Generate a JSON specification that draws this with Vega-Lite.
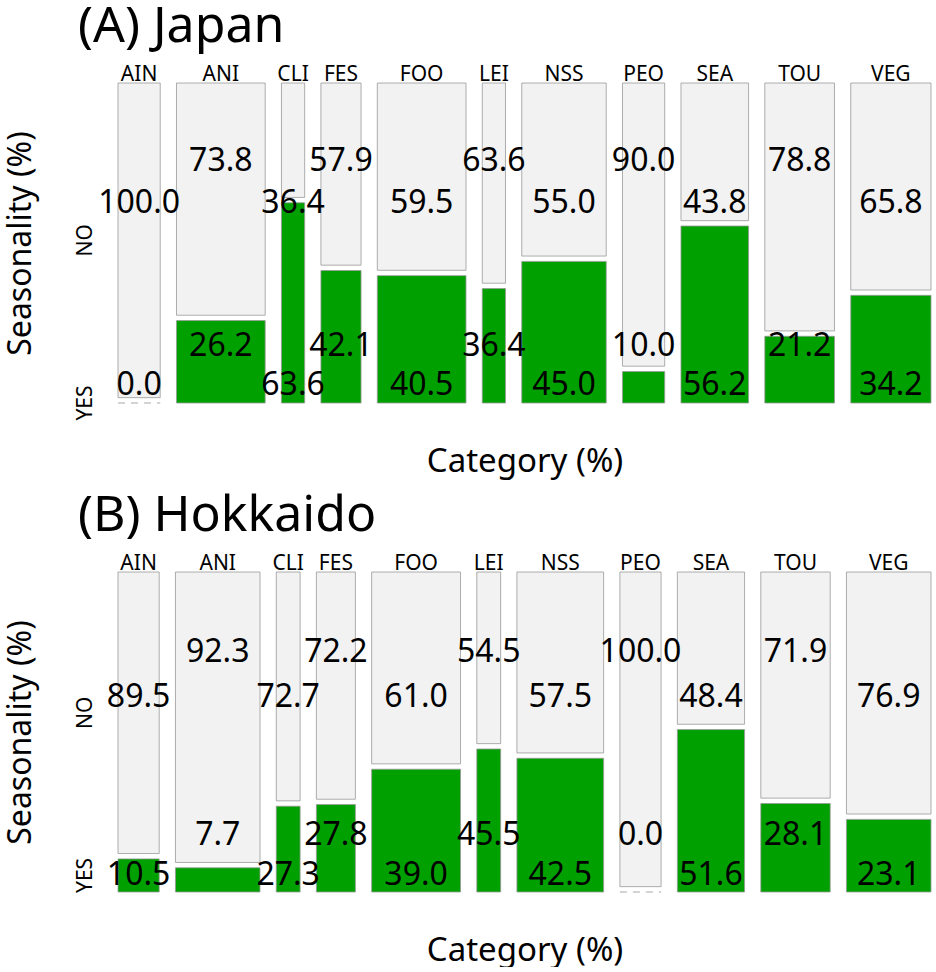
{
  "$schema": "https://vega.github.io/schema/vega-lite/v6.json",
  "padding": {"left": 4, "top": 2, "right": 2, "bottom": 0},
  "config": {
    "font": "Noto Sans",
    "view": {"stroke": null},
    "title": {"font": "Noto Sans", "fontWeight": "normal", "color": "#000"},
    "axis": {"titleFont": "Noto Sans", "titleFontWeight": "normal", "titleColor": "#000", "titleFontSize": 33}
  },
  "datasets": {
    "counts": [
      {"panel": "A", "cat": "AIN", "season": "YES", "n": 0},
      {"panel": "A", "cat": "AIN", "season": "NO", "n": 20},
      {"panel": "A", "cat": "ANI", "season": "YES", "n": 11},
      {"panel": "A", "cat": "ANI", "season": "NO", "n": 31},
      {"panel": "A", "cat": "CLI", "season": "YES", "n": 7},
      {"panel": "A", "cat": "CLI", "season": "NO", "n": 4},
      {"panel": "A", "cat": "FES", "season": "YES", "n": 8},
      {"panel": "A", "cat": "FES", "season": "NO", "n": 11},
      {"panel": "A", "cat": "FOO", "season": "YES", "n": 17},
      {"panel": "A", "cat": "FOO", "season": "NO", "n": 25},
      {"panel": "A", "cat": "LEI", "season": "YES", "n": 4},
      {"panel": "A", "cat": "LEI", "season": "NO", "n": 7},
      {"panel": "A", "cat": "NSS", "season": "YES", "n": 18},
      {"panel": "A", "cat": "NSS", "season": "NO", "n": 22},
      {"panel": "A", "cat": "PEO", "season": "YES", "n": 2},
      {"panel": "A", "cat": "PEO", "season": "NO", "n": 18},
      {"panel": "A", "cat": "SEA", "season": "YES", "n": 18},
      {"panel": "A", "cat": "SEA", "season": "NO", "n": 14},
      {"panel": "A", "cat": "TOU", "season": "YES", "n": 7},
      {"panel": "A", "cat": "TOU", "season": "NO", "n": 26},
      {"panel": "A", "cat": "VEG", "season": "YES", "n": 13},
      {"panel": "A", "cat": "VEG", "season": "NO", "n": 25},
      {"panel": "B", "cat": "AIN", "season": "YES", "n": 2},
      {"panel": "B", "cat": "AIN", "season": "NO", "n": 17},
      {"panel": "B", "cat": "ANI", "season": "YES", "n": 3},
      {"panel": "B", "cat": "ANI", "season": "NO", "n": 36},
      {"panel": "B", "cat": "CLI", "season": "YES", "n": 3},
      {"panel": "B", "cat": "CLI", "season": "NO", "n": 8},
      {"panel": "B", "cat": "FES", "season": "YES", "n": 5},
      {"panel": "B", "cat": "FES", "season": "NO", "n": 13},
      {"panel": "B", "cat": "FOO", "season": "YES", "n": 16},
      {"panel": "B", "cat": "FOO", "season": "NO", "n": 25},
      {"panel": "B", "cat": "LEI", "season": "YES", "n": 5},
      {"panel": "B", "cat": "LEI", "season": "NO", "n": 6},
      {"panel": "B", "cat": "NSS", "season": "YES", "n": 17},
      {"panel": "B", "cat": "NSS", "season": "NO", "n": 23},
      {"panel": "B", "cat": "PEO", "season": "YES", "n": 0},
      {"panel": "B", "cat": "PEO", "season": "NO", "n": 19},
      {"panel": "B", "cat": "SEA", "season": "YES", "n": 16},
      {"panel": "B", "cat": "SEA", "season": "NO", "n": 15},
      {"panel": "B", "cat": "TOU", "season": "YES", "n": 9},
      {"panel": "B", "cat": "TOU", "season": "NO", "n": 23},
      {"panel": "B", "cat": "VEG", "season": "YES", "n": 9},
      {"panel": "B", "cat": "VEG", "season": "NO", "n": 30}
    ]
  },
  "spacing": 13,
  "vconcat": [
    {
      "title": {"text": "(A) Japan", "anchor": "start", "fontSize": 50, "dx": 74, "offset": 12},
      "width": 813,
      "height": 320,
      "data": {"name": "counts"},
      "transform": [
        {"filter": "datum.panel === 'A'"},
        {"joinaggregate": [{"op": "sum", "field": "n", "as": "catN"}], "groupby": ["cat"]},
        {"joinaggregate": [{"op": "sum", "field": "n", "as": "totN"}]},
        {"window": [{"op": "sum", "field": "n", "as": "cumN"}, {"op": "dense_rank", "as": "idx"}], "sort": [{"field": "cat", "order": "ascending"}], "frame": [null, 0], "ignorePeers": false},
        {"calculate": "datum.n / datum.catN", "as": "p"},
        {"calculate": "(datum.cumN - datum.catN) / datum.totN + (datum.idx - 1) * 0.025", "as": "x0"},
        {"calculate": "datum.cumN / datum.totN + (datum.idx - 1) * 0.025", "as": "x1"},
        {"calculate": "(datum.x0 + datum.x1) / 2", "as": "xm"},
        {"calculate": "datum.season === 'YES' ? 0 : 1 - datum.p + 0.017", "as": "y0"},
        {"calculate": "datum.season === 'YES' ? datum.p : 1.017", "as": "y1"},
        {"calculate": "(datum.y0 + datum.y1) / 2", "as": "ym"},
        {"calculate": "format((abs(datum.p * 1000 - floor(datum.p * 1000) - 0.5) < 1e-9 ? (floor(datum.p * 1000) % 2 === 0 ? floor(datum.p * 1000) : floor(datum.p * 1000) + 1) : round(datum.p * 1000)) / 10, '.1f')", "as": "lab"},
        {"calculate": "datum.season === 'NO' ? (datum.idx % 2 === 1 ? 0.635 : 0.77) : (datum.idx % 2 === 1 ? 0.056 : 0.18)", "as": "ly"}
      ],
      "layer": [
        {
          "transform": [{"filter": "datum.n > 0"}],
          "mark": {"type": "rect", "stroke": "#999999", "strokeWidth": 0.8},
          "encoding": {
            "x": {"field": "x0", "type": "quantitative", "scale": {"domain": [0, 1.25], "nice": false, "zero": false}, "axis": {"title": "Category (%)", "labels": false, "ticks": false, "domain": false, "grid": false, "titlePadding": 42}},
            "x2": {"field": "x1"},
            "y": {"field": "y0", "type": "quantitative", "scale": {"domain": [0, 1.017], "nice": false, "zero": false}, "axis": {"title": "Seasonality (%)", "titleFontSize": 32, "labels": false, "ticks": false, "domain": false, "grid": false, "titlePadding": 81}},
            "y2": {"field": "y1"},
            "color": {"field": "season", "type": "nominal", "scale": {"domain": ["NO", "YES"], "range": ["#f2f2f2", "#00a000"]}, "legend": null}
          }
        },
        {
          "transform": [{"filter": "datum.n === 0"}],
          "mark": {"type": "rule", "color": "#aaaaaa", "strokeWidth": 1.2, "strokeDash": [7, 6]},
          "encoding": {
            "x": {"field": "x0", "type": "quantitative"},
            "x2": {"field": "x1"},
            "y": {"field": "y0", "type": "quantitative"}
          }
        },
        {
          "mark": {"type": "text", "fontSize": 32, "color": "#000", "baseline": "middle", "align": "center"},
          "encoding": {
            "x": {"field": "xm", "type": "quantitative"},
            "y": {"field": "ly", "type": "quantitative"},
            "text": {"field": "lab"}
          }
        },
        {
          "transform": [{"filter": "datum.season === 'NO'"}],
          "mark": {"type": "text", "fontSize": 21, "color": "#000", "baseline": "alphabetic", "align": "center", "dy": -2},
          "encoding": {
            "x": {"field": "xm", "type": "quantitative"},
            "y": {"datum": 1.017},
            "text": {"field": "cat"}
          }
        },
        {
          "transform": [{"filter": "datum.idx === 1"}],
          "mark": {"type": "text", "fontSize": 21, "color": "#000", "baseline": "middle", "align": "center", "angle": 270, "dy": -32},
          "encoding": {
            "x": {"datum": 0},
            "y": {"field": "ym", "type": "quantitative"},
            "text": {"field": "season"}
          }
        }
      ]
    },
    {
      "title": {"text": "(B) Hokkaido", "anchor": "start", "fontSize": 50, "dx": 74, "offset": 12},
      "width": 813,
      "height": 320,
      "data": {"name": "counts"},
      "transform": [
        {"filter": "datum.panel === 'B'"},
        {"joinaggregate": [{"op": "sum", "field": "n", "as": "catN"}], "groupby": ["cat"]},
        {"joinaggregate": [{"op": "sum", "field": "n", "as": "totN"}]},
        {"window": [{"op": "sum", "field": "n", "as": "cumN"}, {"op": "dense_rank", "as": "idx"}], "sort": [{"field": "cat", "order": "ascending"}], "frame": [null, 0], "ignorePeers": false},
        {"calculate": "datum.n / datum.catN", "as": "p"},
        {"calculate": "(datum.cumN - datum.catN) / datum.totN + (datum.idx - 1) * 0.025", "as": "x0"},
        {"calculate": "datum.cumN / datum.totN + (datum.idx - 1) * 0.025", "as": "x1"},
        {"calculate": "(datum.x0 + datum.x1) / 2", "as": "xm"},
        {"calculate": "datum.season === 'YES' ? 0 : 1 - datum.p + 0.017", "as": "y0"},
        {"calculate": "datum.season === 'YES' ? datum.p : 1.017", "as": "y1"},
        {"calculate": "(datum.y0 + datum.y1) / 2", "as": "ym"},
        {"calculate": "format((abs(datum.p * 1000 - floor(datum.p * 1000) - 0.5) < 1e-9 ? (floor(datum.p * 1000) % 2 === 0 ? floor(datum.p * 1000) : floor(datum.p * 1000) + 1) : round(datum.p * 1000)) / 10, '.1f')", "as": "lab"},
        {"calculate": "datum.season === 'NO' ? (datum.idx % 2 === 1 ? 0.62 : 0.762) : (datum.idx % 2 === 1 ? 0.054 : 0.181)", "as": "ly"}
      ],
      "layer": [
        {
          "transform": [{"filter": "datum.n > 0"}],
          "mark": {"type": "rect", "stroke": "#999999", "strokeWidth": 0.8},
          "encoding": {
            "x": {"field": "x0", "type": "quantitative", "scale": {"domain": [0, 1.25], "nice": false, "zero": false}, "axis": {"title": "Category (%)", "labels": false, "ticks": false, "domain": false, "grid": false, "titlePadding": 42}},
            "x2": {"field": "x1"},
            "y": {"field": "y0", "type": "quantitative", "scale": {"domain": [0, 1.017], "nice": false, "zero": false}, "axis": {"title": "Seasonality (%)", "titleFontSize": 32, "labels": false, "ticks": false, "domain": false, "grid": false, "titlePadding": 81}},
            "y2": {"field": "y1"},
            "color": {"field": "season", "type": "nominal", "scale": {"domain": ["NO", "YES"], "range": ["#f2f2f2", "#00a000"]}, "legend": null}
          }
        },
        {
          "transform": [{"filter": "datum.n === 0"}],
          "mark": {"type": "rule", "color": "#aaaaaa", "strokeWidth": 1.2, "strokeDash": [7, 6]},
          "encoding": {
            "x": {"field": "x0", "type": "quantitative"},
            "x2": {"field": "x1"},
            "y": {"field": "y0", "type": "quantitative"}
          }
        },
        {
          "mark": {"type": "text", "fontSize": 32, "color": "#000", "baseline": "middle", "align": "center"},
          "encoding": {
            "x": {"field": "xm", "type": "quantitative"},
            "y": {"field": "ly", "type": "quantitative"},
            "text": {"field": "lab"}
          }
        },
        {
          "transform": [{"filter": "datum.season === 'NO'"}],
          "mark": {"type": "text", "fontSize": 21, "color": "#000", "baseline": "alphabetic", "align": "center", "dy": -2},
          "encoding": {
            "x": {"field": "xm", "type": "quantitative"},
            "y": {"datum": 1.017},
            "text": {"field": "cat"}
          }
        },
        {
          "transform": [{"filter": "datum.idx === 1"}],
          "mark": {"type": "text", "fontSize": 21, "color": "#000", "baseline": "middle", "align": "center", "angle": 270, "dy": -32},
          "encoding": {
            "x": {"datum": 0},
            "y": {"field": "ym", "type": "quantitative"},
            "text": {"field": "season"}
          }
        }
      ]
    }
  ]
}
